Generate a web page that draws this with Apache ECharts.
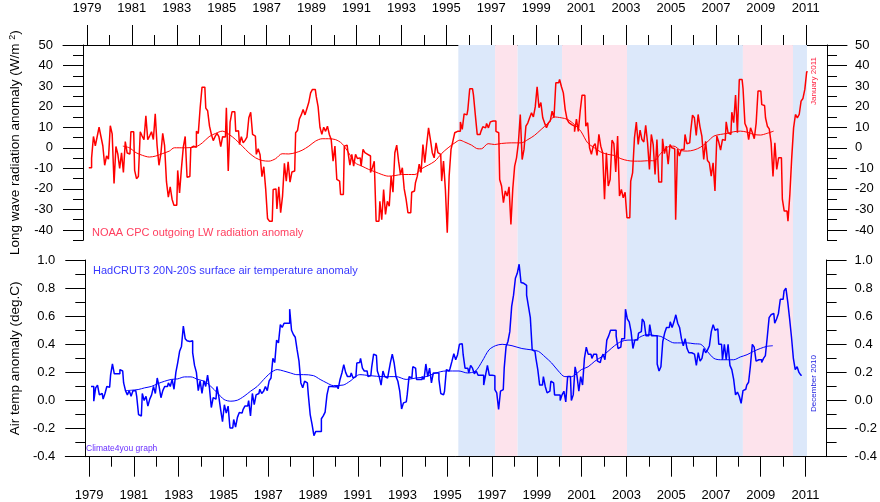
<!DOCTYPE html>
<html>
<head>
<meta charset="utf-8">
<title>OLR and tropical air temperature</title>
<script src="https://cdn.jsdelivr.net/npm/echarts@6.0.0/dist/echarts.min.js"></script>
<style>
  html, body { margin: 0; padding: 0; background: #fff; }
  #chart { width: 880px; height: 502px; }
</style>
</head>
<body>
<div id="chart"></div>
<script>
// monthly values, first one is January 1979
const START_YEAR = 1979;

// NOAA CPC outgoing LW radiation anomaly (W/m2), Jan 1979 .. Jan 2011
const olr = [
  -9.7, -9.7, -5, 5.5, 1, 5.5, 10, 5.5, 1, -8.5,
  -4, -5.5, 10.7, 6.8, -17.4, 0.6, -3, -10, -2.5, -12,
  3, -2.5, -3, 7.8, 7.8, -11, -15, -14, 7.8, 5.7,
  4, 15.5, 4, 5.7, 7.8, 4, 16.5, 1, -8.5, -3,
  7, 1, -16.5, -24, -19, -25, -28, -28, -11, -22, -10,
  0.3, 5.5, -14.3, -14, 0, 0.8, 0.3, 8, 7, 19.5,
  29.5, 29.5, 19.3, 18, 10.5, 6.5, 3.5, 5.5, 7, 5.4, 0.6,
  5.4, 5.2, 19.5, -11.3, 12.5, 17.5, 17.5, 8, 8.3, 1.6, 5.4,
  2.4, 3.6, 5.2, 14.6, 17.3, 6.5, 5.7, -3.2, -0.5, -3.4,
  -14, -9.2, -20, -34.4, -35.7, -35.7, -20.3, -20, -29.7, -19, -31.6,
  -23.5, -7.6, -16.2, -6.8, -16.7, -11.8, -11.3,
  7.3, 8.4, 14, 16, 18.6, 16, 19, 22, 26.7, 28.4, 28.4,
  25, 20, 10, 6.5, 10, 8, 10.5, 6.5, 4, -6.5,
  0.8, -15.4, -16.2, -22.7, -22.7, 0.8, 1.3, -2.4, -8.4, -3.2, -8.9,
  -3.2, -5.2, -4.9, -9, -0.8, -2.4, -3.2, -4, -12, -9.7,
  -6.5, -35.7, -35.7, -26, -35, -20.3, -32.4, -26, -28.4, -13.8, -21.6,
  -2.4, 1.3, -6.5, -13, -9.7, -20, -25, -31.6, -31.6, -21.6, -21,
  -17, -13.8, -8, -12, 1.6, -7.3, 1.6, 9.7, 4, -2.4,
  -4.9, 2.4, -2.4, -3.2, -16.2, -6.5, -20.3, -41.3, -13.8, -0.8,
  3.2, 7.3, 8, 8, 12.6, 9, 16.5, 16, 18.6, 28.7, 28.7,
  25.6, 15.9, 6.5, 6.5, 8, 10.2, 9.7, 11.8, 9.7, 12.6,
  13, 13, 8, 7.3, -15.4, -18.6, -26.7, -21, -23.5, -19, -37.3,
  -19.9, -8.9, -4.9, 2.4, 16.2, -5.7, -0.8, 10.5, 12, 14.6,
  17, 15, 19.9, 29.7, 19.5, 22, 14.6, 12, 9.7, 12,
  13, 17.8, 14.6, 31.6, 31.6, 33.2, 29.7, 26.7, 18.6, 13.8, 12.2,
  11.3, 10.5, 7.8, 14, 8,
  17.8, 25.6, 25.6, 10.5, 12.2, 0, -3.2, 0.8, 2, -3.7, 6.5,
  0.8, -2.4, -25, -2.4, -18.6, -15.4, 3.7, 2, -11.8, 5.7,
  -23.5, -20.3, -24.3, -21.6, -34, -34, -16.2, -12.2, 4.9, 12.5, 1.6,
  8.6, 4, 2.8, 10.9, 2.4, -10.5, 6.5, 1.6, -13, 4,
  -16.7, -16.7, 4.4, -2.8, 0.8, -8, 1.6, 0, -0.5, -35, -0.5,
  -4, -0.8, -0.8, 6.5, 2, 2.4, 7.8, 15.9, 14.6, 6,
  16.2, 10.2, 5.7, -5.7, 3.2, -6.2, -7.3, -13.8, -7.3, -21,
  5.7, 2.8, -1.1, 4, 3.6, 12.6, 7.3, 6.5, 17.3, 12.2,
  25.6, 7.3, 33.2, 33.2, 28.7, 11.8, 9.7, 4, 9.7, 7.3, 4.4,
  12, 27.6, 27.6, 21, 20.6, 14.6, 10.5, 9.2, 2.4, -14, 2.4,
  -10.5, -4.9, -4.9, -25, -30.8, -30.8, -35.7, -22.7, -4.9, 9.7, 16.2,
  14.6, 16.2, 22.7, 24, 28.4, 37
];

// HadCRUT3 20N-20S air temperature anomaly (deg C), Jan 1979 .. Dec 2010
const temp = [
  0.1, 0.1, -0.005, 0.09, 0.11, 0.04, 0.05, 0.01, 0.05, 0.1, 0.095,
  0.18, 0.26, 0.19, 0.19, 0.19, 0.22, 0.21, 0.125, 0.07, 0.04, 0.07,
  0.03, 0.07, 0.07, 0.03, -0.1, -0.11, 0.05, 0, 0.03, -0.04, 0.01,
  0.04, 0.1, 0.05, 0.16, 0.1, 0.02, 0.07, 0.1, 0.1, 0.125, 0.1,
  0.15, 0.08, 0.2, 0.27, 0.35, 0.385, 0.53, 0.44, 0.425, 0.42,
  0.425, 0.34, 0.25, 0.2, 0.07, 0.14, 0.05, 0.14, 0.1, 0.18,
  0.09, -0.05, 0.02, 0.01, 0.1, 0.03, -0.065, -0.15, -0.03, -0.09,
  -0.04, -0.195, -0.195, -0.135, -0.19, -0.12, -0.085, -0.09, -0.065, -0.04, -0.04, 0,
  -0.11, 0.05, -0.03, 0.04, 0.05, 0.08, 0.05, 0.065, 0.1, 0.07,
  0.14, 0.16, 0.3, 0.27, 0.43, 0.41, 0.54, 0.52, 0.55, 0.55, 0.55,
  0.65, 0.5, 0.47, 0.45, 0.36, 0.28, 0.125,
  0.09, 0.137, 0.125, 0.04, -0.1, -0.17, -0.25, -0.22, -0.22, -0.22, -0.13,
  -0.11, -0.083, 0.04, 0.1, 0.1, 0.097, 0.09, 0.1, 0.083, 0.15, 0.196,
  0.255, 0.2, 0.17, 0.17, 0.196, 0.16, 0.17, 0.267, 0.27, 0.3, 0.23,
  0.21, 0.21, 0.17, 0.177, 0.24, 0.33, 0.32, 0.21, 0.17, 0.11, 0.21,
  0.17, 0.16, 0.196, 0.27, 0.33, 0.267, 0.17, 0.137, 0.066, -0.06,
  -0.017, -0.01, 0.04, 0.17, 0.16, 0.24, 0.23, 0.15, 0.15, 0.15, 0.17,
  0.15, 0.26, 0.17, 0.23, 0.125, 0.196, 0.196, 0.196, 0.15, 0.05, 0.04,
  0.066, 0.22, 0.21, 0.23, 0.28, 0.333, 0.29, 0.326, 0.4, 0.404,
  0.326, 0.23, 0.23, 0.196, 0.25, 0.23, 0.19, 0.21, 0.18, 0.18, 0.18, 0.11,
  0.18, 0.25, 0.18, 0.18, 0.177, 0.078, 0.054, -0.064, 0.066, 0.078,
  0.23, 0.385, 0.42, 0.49, 0.67, 0.75, 0.87, 0.905, 0.97, 0.84,
  0.834, 0.82, 0.75, 0.67, 0.59, 0.36, 0.35, 0.3, 0.22, 0.11,
  0.11, 0.17, 0.1, 0.054, 0.066, 0.137, 0.125, 0.04, 0.04, 0.04, 0,
  0.04, 0.066, -0.01, 0.17, 0.17, 0, 0.04, 0.24, 0.177,
  0.066, 0.17, 0.11, 0.3, 0.38, 0.33, 0.33, 0.3, 0.33, 0.33, 0.28,
  0.27, 0.3, 0.33, 0.29, 0.43, 0.46, 0.5, 0.5, 0.5, 0.46, 0.37,
  0.38, 0.44, 0.44, 0.65, 0.58, 0.56, 0.49, 0.37, 0.43, 0.43,
  0.48, 0.49, 0.58, 0.56, 0.46, 0.46, 0.54, 0.46, 0.46, 0.46, 0.26,
  0.21, 0.24, 0.42, 0.48, 0.52, 0.52, 0.56, 0.52, 0.56, 0.61, 0.55,
  0.52, 0.44, 0.39, 0.44, 0.37, 0.34, 0.34, 0.33, 0.32, 0.25, 0.34,
  0.28, 0.3, 0.37, 0.34, 0.36, 0.39, 0.49, 0.54, 0.5, 0.51,
  0.4, 0.4, 0.29, 0.4, 0.29, 0.4, 0.25, 0.22, 0.15, 0.04, 0.06,
  0.03, -0.02, 0.07, 0.08, 0.11, 0.13, 0.25, 0.4, 0.38, 0.28,
  0.29, 0.29, 0.27, 0.3, 0.32, 0.45, 0.59, 0.61, 0.62, 0.55,
  0.58, 0.62, 0.72, 0.72, 0.78, 0.8, 0.7, 0.58, 0.45, 0.3,
  0.22, 0.24, 0.2, 0.18
];

// running means
const olrMeanYears = [1980.6, 1980.89, 1981.19, 1981.48, 1981.78, 1982.07, 1982.37, 1982.67, 1982.89, 1983.33,
  1983.85, 1984.14, 1984.44, 1984.73, 1985.03, 1985.33, 1985.62, 1985.92, 1986.21, 1986.51,
  1986.8, 1987.1, 1987.4, 1987.69, 1987.99, 1988.28, 1988.58, 1988.88, 1989.17, 1989.47,
  1989.76, 1990.06, 1990.35, 1990.65, 1990.94, 1991.24, 1991.54, 1991.83, 1992.13, 1992.42,
  1992.72, 1993.01, 1993.31, 1993.6, 1993.9, 1994.2, 1994.49, 1994.79, 1995.08, 1995.38,
  1995.6, 1995.82, 1996.12, 1996.41, 1996.56, 1996.86, 1997.15, 1997.45, 1997.89, 1998.33,
  1998.63, 1998.92, 1999.22, 1999.51, 1999.81, 2000.11, 2000.4, 2000.7, 2000.99, 2001.29,
  2001.59, 2001.88, 2002.18, 2002.47, 2002.77, 2003.07, 2003.36, 2003.66, 2003.95, 2004.25,
  2004.54, 2004.84, 2005.13, 2005.43, 2005.73, 2006.02, 2006.32, 2006.61, 2006.91, 2007.2,
  2007.5, 2007.79, 2008.09, 2008.39, 2008.68, 2008.98, 2009.27, 2009.57];
const olrMean = [0.8, 0, -2.4, -3.7, -4.5, -4, -2.8, -1.6, 0, 0,
  0.5, 2.4, 5.4, 7, 8.1, 6.5, 4, 0.8, -2.4, -4.9,
  -6.2, -6.5, -5.3, -2.9, -3, -2.4, -1.2, 0.8, 3.2, 4.4,
  4.4, 4, 2.1, -2.4, -7.3, -8.9, -10.5, -11.7, -13, -13.8,
  -13.5, -13, -13, -13, -10.2, -8.4, -6.5, -2.8, 0, 2.4,
  3.7, 2.8, 1.3, -0.5, -0.5, 2, 1.6, 2.1, 2.4, 2.4,
  4, 6, 8.9, 11.8, 15, 14.6, 13.8, 11.3, 8, 2.4,
  0, -2.1, -3.2, -3.7, -5.3, -6.2, -6.5, -6.5, -6.3, -6.3,
  -2.8, 0.3, 0.8, -1.3, -1.6, -1.1, 0.3, 2.8, 5.7, 6.5,
  7, 7.8, 8.1, 7.6, 6.5, 6.2, 7, 8.1];

const tempMeanYears = [1980.6, 1980.89, 1981.19, 1981.48, 1981.78, 1982.07, 1982.37, 1982.67, 1982.96, 1983.26,
  1983.55, 1983.85, 1984.14, 1984.44, 1984.73, 1985.03, 1985.33, 1985.62, 1985.92, 1986.21,
  1986.51, 1986.8, 1987.1, 1987.4, 1987.69, 1987.99, 1988.28, 1988.58, 1989.02, 1989.32,
  1989.62, 1989.91, 1990.35, 1990.65, 1991.09, 1991.54, 1992.13, 1992.72, 1993.16, 1993.6,
  1994.05, 1994.49, 1994.93, 1995.52, 1995.89, 1996.26, 1996.56, 1996.86, 1997.15, 1997.45,
  1997.89, 1998.33, 1998.78, 1999.07, 1999.37, 1999.66, 1999.96, 2000.25, 2000.55, 2000.84,
  2000.99, 2001.29, 2001.59, 2001.88, 2002.18, 2002.47, 2002.77, 2003.07, 2003.36, 2003.66,
  2003.95, 2004.25, 2004.54, 2004.84, 2005.13, 2005.43, 2005.73, 2006.02, 2006.32, 2006.61,
  2006.91, 2007.2, 2007.5, 2007.79, 2008.09, 2008.39, 2008.68, 2008.98, 2009.27, 2009.54];
const tempMean = [0.07, 0.073, 0.078, 0.09, 0.1, 0.12, 0.137, 0.15, 0.154, 0.168,
  0.168, 0.15, 0.137, 0.1, 0.054, 0.007, -0.005, 0.002, 0.03, 0.066,
  0.1, 0.15, 0.196, 0.22, 0.21, 0.196, 0.184, 0.184, 0.177, 0.15,
  0.125, 0.106, 0.11, 0.137, 0.184, 0.177, 0.17, 0.17, 0.15, 0.16,
  0.17, 0.196, 0.21, 0.21, 0.196, 0.21, 0.28, 0.36, 0.39, 0.4,
  0.39, 0.37, 0.36, 0.35, 0.31, 0.267, 0.21, 0.17, 0.17, 0.2,
  0.22, 0.24, 0.28, 0.31, 0.35, 0.39, 0.42, 0.43, 0.43, 0.456,
  0.47, 0.463, 0.456, 0.43, 0.41, 0.41, 0.41, 0.404, 0.4, 0.35,
  0.3, 0.29, 0.29, 0.29, 0.31, 0.326, 0.35, 0.37, 0.385, 0.39];

// shaded periods
const bandFrom = [1995.6, 1997.23, 1998.23, 2000.2, 2003.08, 2008.22, 2010.44];
const bandTo   = [1997.23, 1998.23, 2000.2, 2003.08, 2008.22, 2010.44, 2011.06];
const bandKind = ['cool', 'warm', 'cool', 'warm', 'cool', 'warm', 'cool'];

// axis ticks
const yearTicks = [1979, 1981, 1983, 1985, 1987, 1989, 1991, 1993, 1995, 1997, 1999, 2001, 2003, 2005, 2007, 2009, 2011];
const yearMinorTicks = [1980, 1982, 1984, 1986, 1988, 1990, 1992, 1994, 1996, 1998, 2000, 2002, 2004, 2006, 2008, 2010];
const olrTicks = [-40, -30, -20, -10, 0, 10, 20, 30, 40, 50];
const olrMinorTicks = [-45, -35, -25, -15, -5, 5, 15, 25, 35, 45];
const tempTicks = [-0.4, -0.2, 0, 0.2, 0.4, 0.6, 0.8, 1.0];
const tempMinorTicks = [-0.3, -0.1, 0.1, 0.3, 0.5, 0.7, 0.9];

const FONT = '"Liberation Sans", Arial, sans-serif';
const XMIN = 1977.936, XMAX = 2012.836;
const BAND_COLORS = { cool: '#dce8fa', warm: '#fde3ec' };

const monthly = vals => vals.map((v, i) => [START_YEAR + (i + 1) / 12, v]);
const pairs = (xs, ys) => xs.map((x, i) => [x, ys[i]]);

const chart = echarts.init(document.getElementById('chart'));

function xAxisPair(grid, position) {
  const base = { type: 'value', gridIndex: grid, position: position, min: XMIN, max: XMAX, splitLine: { show: false } };
  return [
    Object.assign({}, base, {
      axisLine: { onZero: false, lineStyle: { color: '#000', width: 1 } },
      axisTick: { customValues: yearTicks, length: 20, lineStyle: { color: '#000', width: 1 } },
      axisLabel: { customValues: yearTicks, margin: position === 'top' ? 30 : 32, color: '#000', fontSize: 13, fontFamily: FONT,
        formatter: v => String(v) }
    }),
    Object.assign({}, base, {
      axisLine: { show: false, onZero: false },
      axisTick: { customValues: yearMinorTicks, length: 10, lineStyle: { color: '#000', width: 1 } },
      axisLabel: { show: false }
    })
  ];
}

function yAxisSet(grid, min, max, ticks, minor, fmt, name) {
  const base = { type: 'value', gridIndex: grid, min: min, max: max, offset: -20, splitLine: { show: false } };
  const out = [];
  ['left', 'right'].forEach(pos => {
    out.push(Object.assign({}, base, {
      position: pos,
      name: pos === 'left' ? name : '',
      nameLocation: 'middle',
      nameGap: 60,
      nameRotate: 90,
      nameTextStyle: { color: '#000', fontSize: 13.5, fontFamily: FONT,
        rich: { s: { fontSize: 9, fontFamily: FONT, color: '#000', padding: [0, 0, 6, 0] } } },
      axisLine: { onZero: false, lineStyle: { color: '#000', width: 1 } },
      axisTick: { customValues: ticks, length: 20, lineStyle: { color: '#000', width: 1 } },
      axisLabel: { customValues: ticks, margin: pos === 'left' ? 30 : 28, color: '#000', fontSize: 13, fontFamily: FONT, formatter: fmt }
    }));
    out.push(Object.assign({}, base, {
      position: pos,
      axisLine: { show: false, onZero: false },
      axisTick: { customValues: minor, length: 10, lineStyle: { color: '#000', width: 1 } },
      axisLabel: { show: false }
    }));
  });
  return out;
}

const option = {
  animation: false,
  backgroundColor: '#fff',
  grid: [
    { left: 60, right: 33, top: 45, height: 195.3 },
    { left: 60, right: 33, top: 260, height: 196.7 },
    { left: 60, right: 33, top: 45, height: 411 }
  ],
  xAxis: [].concat(
    xAxisPair(0, 'top'),
    xAxisPair(1, 'bottom'),
    [{ type: 'value', gridIndex: 2, min: XMIN, max: XMAX, show: false }]
  ),
  yAxis: [].concat(
    yAxisSet(0, -45, 50, olrTicks, olrMinorTicks, v => String(v), 'Long wave radiation anomaly (W/m {s|2})'),
    yAxisSet(1, -0.4, 1.0, tempTicks, tempMinorTicks, v => v.toFixed(1), 'Air temp anomaly (deg.C)'),
    [{ type: 'value', gridIndex: 2, min: 0, max: 1, show: false }]
  ),
  series: [
    {
      type: 'line', xAxisIndex: 4, yAxisIndex: 8, data: [], z: 1, silent: true,
      markArea: {
        silent: true,
        data: bandFrom.map((f, i) => [
          { xAxis: f, yAxis: 0, itemStyle: { color: BAND_COLORS[bandKind[i]] } },
          { xAxis: bandTo[i], yAxis: 1 }
        ])
      }
    },
    {
      type: 'line', xAxisIndex: 0, yAxisIndex: 0, data: monthly(olr), step: 'middle',
      showSymbol: false, z: 3, lineStyle: { color: '#ff0000', width: 1.5 }
    },
    {
      type: 'line', xAxisIndex: 0, yAxisIndex: 0, data: pairs(olrMeanYears, olrMean), smooth: 0.3,
      showSymbol: false, z: 4, lineStyle: { color: '#ff0000', width: 1 }
    },
    {
      type: 'line', xAxisIndex: 2, yAxisIndex: 4, data: monthly(temp), step: 'middle',
      showSymbol: false, z: 3, lineStyle: { color: '#0000ff', width: 1.5 }
    },
    {
      type: 'line', xAxisIndex: 2, yAxisIndex: 4, data: pairs(tempMeanYears, tempMean), smooth: 0.3,
      showSymbol: false, z: 4, lineStyle: { color: '#0000ff', width: 1 }
    }
  ],
  graphic: [
    { type: 'text', x: 92, y: 232.5, z: 10,
      style: { text: 'NOAA CPC outgoing LW radiation anomaly', fill: '#ff4060', font: '11px ' + FONT, verticalAlign: 'middle' } },
    { type: 'text', x: 93, y: 270.5, z: 10,
      style: { text: 'HadCRUT3 20N-20S surface air temperature anomaly', fill: '#3838ff', font: '11px ' + FONT, verticalAlign: 'middle' } },
    { type: 'text', x: 86, y: 448.5, z: 10,
      style: { text: 'Climate4you graph', fill: '#6a30ff', font: '8.5px ' + FONT, verticalAlign: 'middle' } },
    { type: 'text', x: 814, y: 81, rotation: Math.PI / 2, z: 10,
      style: { text: 'January 2011', fill: '#ff2040', font: '8px ' + FONT, align: 'center', verticalAlign: 'middle' } },
    { type: 'text', x: 814, y: 383.5, rotation: Math.PI / 2, z: 10,
      style: { text: 'December 2010', fill: '#2020e0', font: '8px ' + FONT, align: 'center', verticalAlign: 'middle' } }
  ]
};

chart.setOption(option);
</script>
</body>
</html>
